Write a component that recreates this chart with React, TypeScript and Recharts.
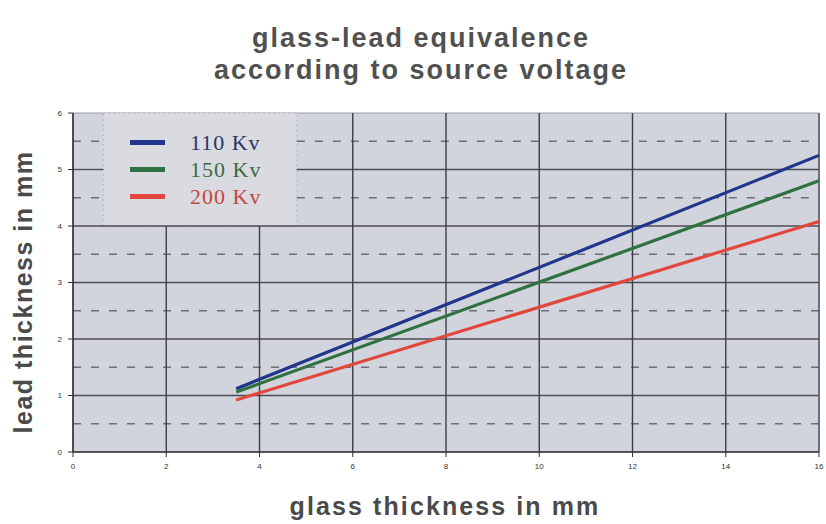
import React from 'react';
import { LineChart, Line, XAxis, YAxis, ReferenceLine, ReferenceArea } from 'recharts';

// glass thickness (mm) at the two ends of each line
const glassThickness = [3.5, 16];
const lead110 = [1.12, 5.25];
const lead150 = [1.06, 4.8];
const lead200 = [0.92, 4.08];

const xTicks = [0, 2, 4, 6, 8, 10, 12, 14, 16];
const yTicks = [0, 1, 2, 3, 4, 5, 6];
const solidY = [1, 2, 3, 4, 5];
const dashedY = [0.5, 1.5, 2.5, 3.5, 4.5, 5.5];
const gridX = [2, 4, 6, 8, 10, 12, 14];

const seriesNames = ['110 Kv', '150 Kv', '200 Kv'];
const seriesColors = ['#22358c', '#2f7140', '#e2463c'];
const labelColors = ['#2b3468', '#3b6c3e', '#c8463e'];

// legend box, in data units
const BOX = { x1: 0.65, x2: 4.8, y1: 4, y2: 6 };

const data = glassThickness.map((g, i) => ({
  g,
  kv110: lead110[i],
  kv150: lead150[i],
  kv200: lead200[i],
}));

const W = 826;
const H = 524;
const textGrey = '#4a4a4a';

export default function App() {
  const horizontal = (y: number, dashed: boolean) => {
    const style = {
      stroke: dashed ? '#6d6f78' : '#4b4d55',
      strokeWidth: dashed ? 1.3 : 1.4,
      strokeDasharray: dashed ? '8 10' : undefined,
    };
    if (y > BOX.y1) {
      return [
        <ReferenceLine key={`a${y}`} segment={[{ x: 0, y }, { x: BOX.x1, y }]} {...style} ifOverflow="visible" />,
        <ReferenceLine key={`b${y}`} segment={[{ x: BOX.x2, y }, { x: 16, y }]} {...style} ifOverflow="visible" />,
      ];
    }
    return [<ReferenceLine key={`c${y}`} y={y} {...style} />];
  };

  const vertical = (x: number) => {
    const style = { stroke: '#3c3e46', strokeWidth: 1.4 };
    if (x < BOX.x2) {
      return <ReferenceLine key={`v${x}`} segment={[{ x, y: 0 }, { x, y: BOX.y1 }]} {...style} />;
    }
    return <ReferenceLine key={`v${x}`} x={x} {...style} />;
  };

  return (
    <div style={{ position: 'relative', width: W, height: H, background: '#fff', fontFamily: 'Liberation Sans, Arial, sans-serif' }}>
      <style>{`body{margin:0}`}</style>
      <div style={{ position: 'absolute', left: 0, width: 842, top: 22, textAlign: 'center', fontWeight: 'bold', fontSize: 27, letterSpacing: 2, color: '#505050', lineHeight: '32px' }}>
        glass-lead equivalence
        <br />
        according to source voltage
      </div>
      <LineChart width={W} height={H} data={data} margin={{ top: 113, right: 7, left: 0, bottom: 0 }}>
        <ReferenceArea x1={0} x2={16} y1={0} y2={6} fill="#d1d4dc" fillOpacity={1} stroke="#9a9ca4" strokeWidth={1} />
        <ReferenceArea x1={BOX.x1} x2={BOX.x2} y1={BOX.y1} y2={BOX.y2} fill="#d9dbe1" fillOpacity={1} stroke="#b4b7c0" strokeDasharray="2 3" />
        {solidY.flatMap((y) => horizontal(y, false))}
        {dashedY.flatMap((y) => horizontal(y, true))}
        {gridX.map((x) => vertical(x))}
        <ReferenceLine x={16} stroke="#4b4d55" strokeWidth={1.4} />
        <XAxis
          dataKey="g"
          type="number"
          domain={[0, 16]}
          ticks={xTicks}
          height={72}
          tickSize={5}
          tick={{ fontSize: 8, fill: '#333', dy: 4 }}
          axisLine={{ stroke: '#2f3036', strokeWidth: 1.6 }}
          tickLine={{ stroke: '#2f3036' }}
        />
        <YAxis
          type="number"
          domain={[0, 6]}
          ticks={yTicks}
          width={73}
          tickSize={5}
          tick={{ fontSize: 8, fill: '#333', dx: -4 }}
          axisLine={{ stroke: '#2f3036', strokeWidth: 1.6 }}
          tickLine={{ stroke: '#2f3036' }}
        />
        <Line dataKey="kv110" stroke={seriesColors[0]} strokeWidth={3.2} dot={false} isAnimationActive={false} />
        <Line dataKey="kv150" stroke={seriesColors[1]} strokeWidth={3.2} dot={false} isAnimationActive={false} />
        <Line dataKey="kv200" stroke={seriesColors[2]} strokeWidth={3.2} dot={false} isAnimationActive={false} />
      </LineChart>
      <div style={{ position: 'absolute', left: 0, width: 890, top: 490, textAlign: 'center', fontWeight: 'bold', fontSize: 25, letterSpacing: 2.1, color: textGrey, lineHeight: '32px' }}>
        glass thickness in mm
      </div>
      <div style={{ position: 'absolute', left: 23, top: 292, width: 0, height: 0 }}>
        <div style={{ position: 'absolute', transform: 'translate(-50%, -50%) rotate(-90deg)', whiteSpace: 'nowrap', fontWeight: 'bold', fontSize: 25, letterSpacing: 1.5, color: textGrey, lineHeight: '30px' }}>
          lead thickness in mm
        </div>
      </div>
      <div style={{ position: 'absolute', left: 130, top: 129, fontFamily: 'Liberation Serif, Times New Roman, serif', fontSize: 22, letterSpacing: 1, color: '#333' }}>
        {seriesNames.map((n, i) => (
          <div key={n} style={{ display: 'flex', alignItems: 'center', height: 27 }}>
            <span style={{ display: 'inline-block', width: 35, height: 5, background: seriesColors[i], marginRight: 25 }} />
            <span style={{ color: labelColors[i] }}>{n}</span>
          </div>
        ))}
      </div>
    </div>
  );
}
